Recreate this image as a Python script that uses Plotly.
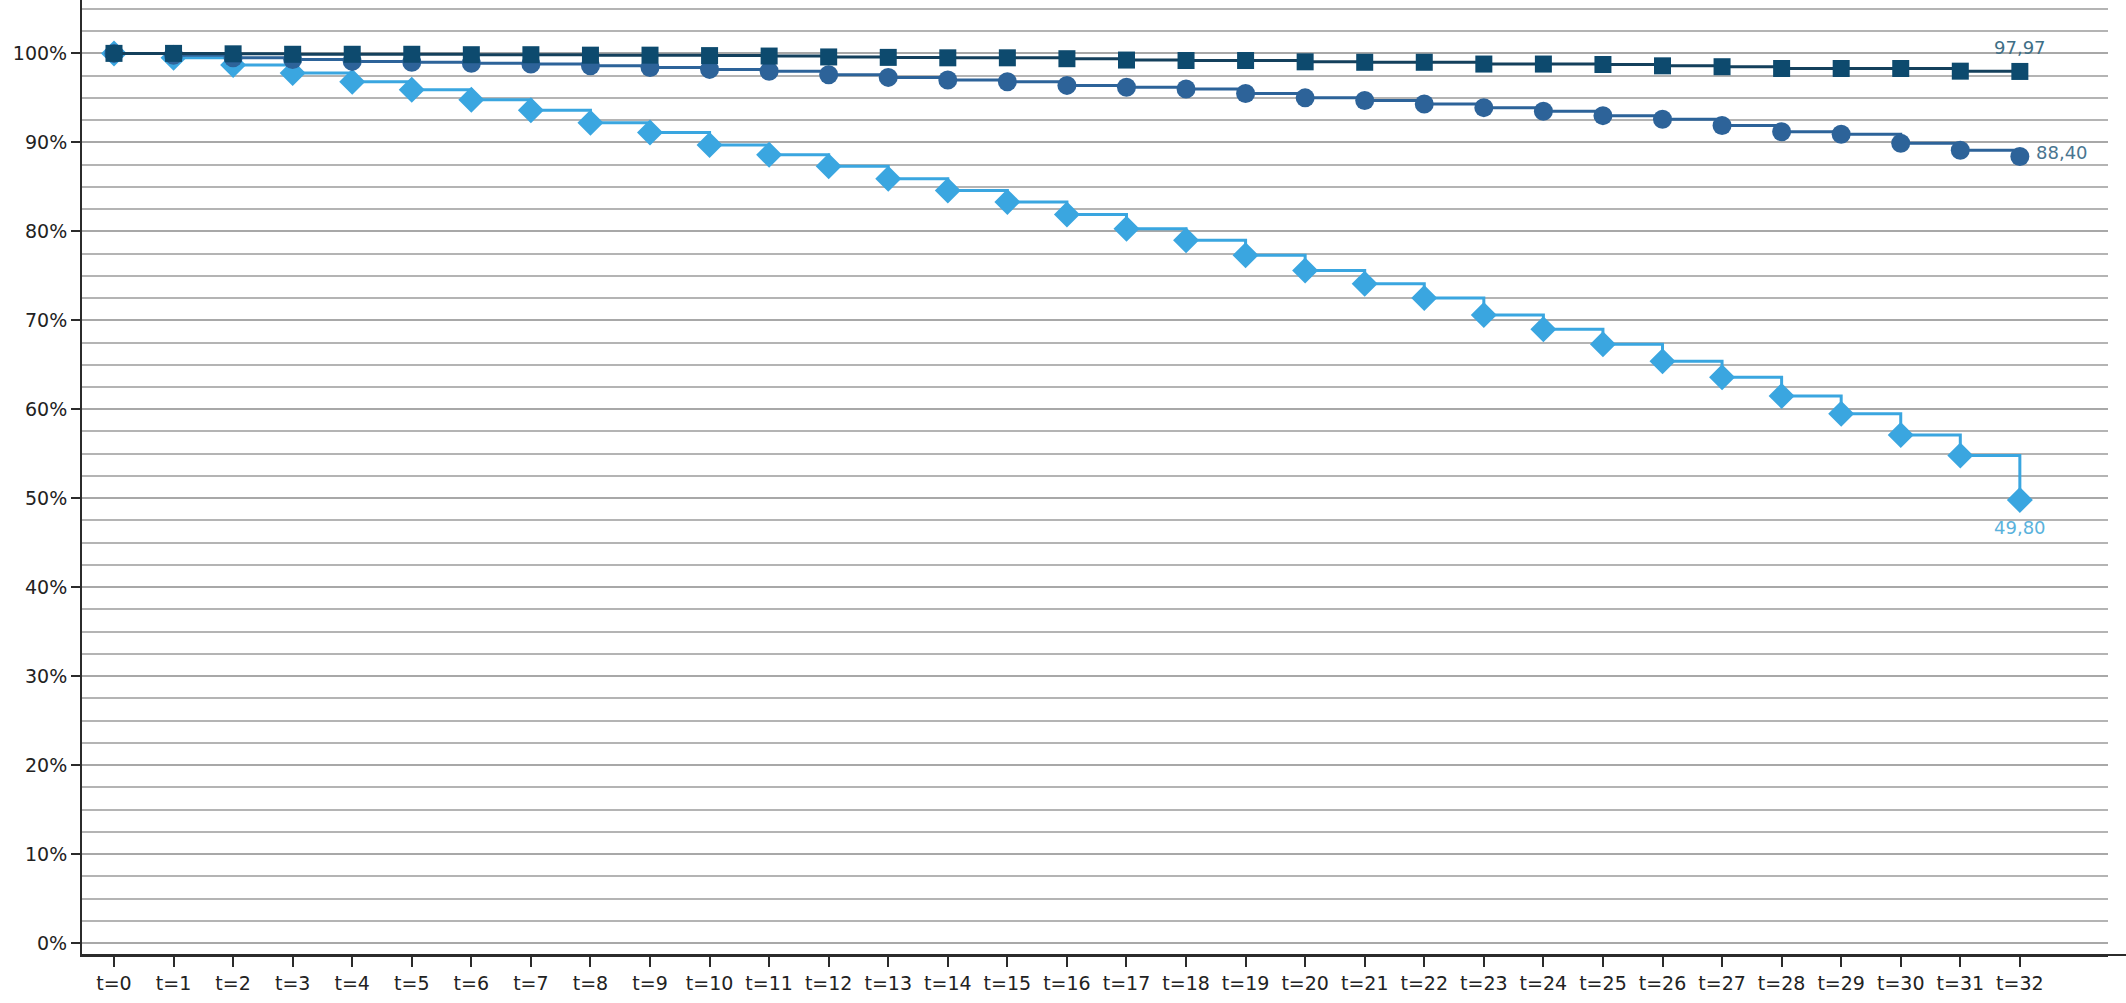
import plotly.graph_objects as go

periods = [f"t={i}" for i in range(33)]

series_squares = [100.0, 100.0, 99.95, 99.9, 99.9, 99.9, 99.85, 99.85, 99.8, 99.8,
                  99.75, 99.7, 99.6, 99.55, 99.5, 99.5, 99.4, 99.25, 99.2, 99.2,
                  99.05, 99.0, 99.0, 98.8, 98.8, 98.75, 98.6, 98.5, 98.3, 98.3,
                  98.3, 98.0, 97.97]

series_circles = [100.0, 99.8, 99.5, 99.3, 99.1, 99.0, 98.9, 98.8, 98.6, 98.4,
                  98.2, 98.0, 97.6, 97.3, 97.0, 96.8, 96.4, 96.2, 96.0, 95.5,
                  95.0, 94.7, 94.3, 93.9, 93.5, 93.0, 92.6, 91.9, 91.2, 90.9,
                  89.9, 89.1, 88.40]

series_diamonds = [100.0, 99.5, 98.7, 97.8, 96.8, 95.9, 94.8, 93.6, 92.2, 91.1,
                   89.7, 88.6, 87.3, 85.9, 84.6, 83.3, 81.9, 80.3, 79.0, 77.3,
                   75.6, 74.1, 72.5, 70.6, 69.0, 67.3, 65.4, 63.6, 61.5, 59.5,
                   57.1, 54.8, 49.80]

y_tick_values = list(range(0, 101, 10))

C_SQ = "#0d4a6e"
C_SQ_LINE = "#14405c"
C_CI = "#2d6399"
C_DI = "#3aa6e0"

fig = go.Figure()

fig.add_trace(go.Scatter(
    x=periods, y=series_diamonds, mode="lines+markers", line_shape="hv",
    line=dict(color=C_DI, width=3),
    marker=dict(symbol="diamond", size=20, color=C_DI),
    showlegend=False, cliponaxis=False))
fig.add_trace(go.Scatter(
    x=periods, y=series_circles, mode="lines+markers", line_shape="hv",
    line=dict(color=C_CI, width=3),
    marker=dict(symbol="circle", size=19, color=C_CI),
    showlegend=False, cliponaxis=False))
fig.add_trace(go.Scatter(
    x=periods, y=series_squares, mode="lines+markers", line_shape="hv",
    line=dict(color=C_SQ_LINE, width=3),
    marker=dict(symbol="square", size=17, color=C_SQ),
    showlegend=False, cliponaxis=False))

def fmt(v):
    return f"{v:.2f}".replace(".", ",")

lab_font = dict(family="DejaVu Sans", size=18)
fig.add_annotation(x=periods[-1], y=series_squares[-1], text=fmt(series_squares[-1]),
                   showarrow=False, yshift=24, font=dict(color="#3f6f86", **lab_font))
fig.add_annotation(x=periods[-1], y=series_circles[-1], text=fmt(series_circles[-1]),
                   showarrow=False, xanchor="left", xshift=14, yshift=4,
                   font=dict(color="#4a7590", **lab_font))
fig.add_annotation(x=periods[-1], y=series_diamonds[-1], text=fmt(series_diamonds[-1]),
                   showarrow=False, yshift=-28, font=dict(color="#5ab2dc", **lab_font))

# extend the x axis baseline to the right edge like the reference
fig.add_shape(type="line", xref="paper", yref="paper", x0=0, x1=1.02, y0=0, y1=0,
              line=dict(color="#2b2b2b", width=2))

fig.update_layout(
    width=2126, height=1003,
    margin=dict(l=82, r=18, t=0, b=48),
    paper_bgcolor="white", plot_bgcolor="white",
    font=dict(family="DejaVu Sans", size=19, color="#222222"),
)
fig.update_xaxes(
    type="category", range=[-0.537, 33.48],
    showgrid=False, zeroline=False,
    showline=True, linecolor="#2b2b2b", linewidth=2,
    ticks="outside", ticklen=10, tickwidth=2, tickcolor="#2b2b2b",
    tickfont=dict(family="DejaVu Sans", size=19, color="#222222"),
)
fig.update_yaxes(
    range=[-1.35, 106.0],
    tickvals=y_tick_values, ticktext=[f"{v}%" for v in y_tick_values],
    showgrid=True, gridcolor="#a8a8a8", gridwidth=1.5,
    zeroline=False,
    showline=True, linecolor="#2b2b2b", linewidth=2,
    ticks="outside", ticklen=9, tickwidth=2, tickcolor="#2b2b2b",
    tickfont=dict(family="DejaVu Sans", size=19, color="#222222"),
    minor=dict(dtick=2.5, tick0=0, showgrid=True, gridcolor="#b4b4b4", gridwidth=1.5, ticks=""),
)

fig.write_html("out.html",
               config={"displayModeBar": False},
               post_script="document.body.style.margin='0';document.body.style.overflow='hidden';")
